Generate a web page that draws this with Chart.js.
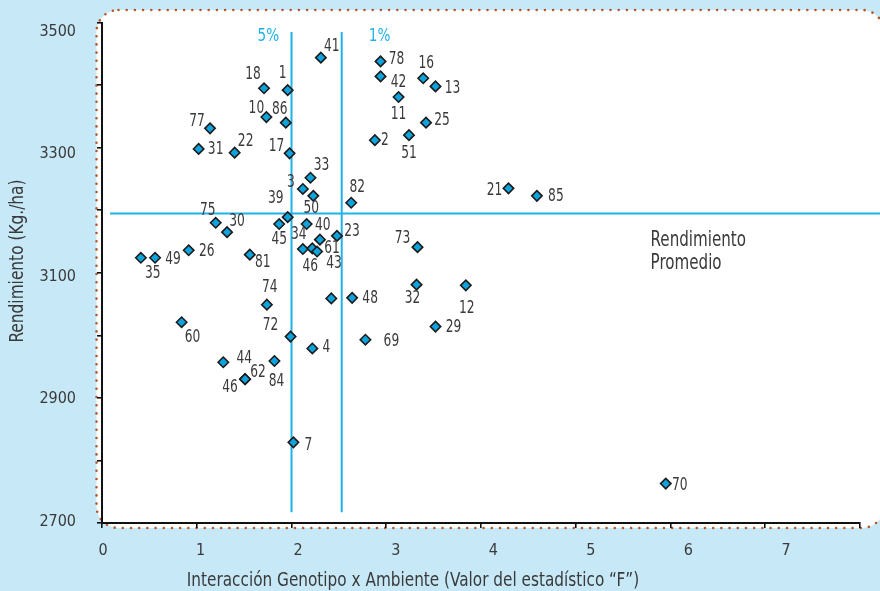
<!DOCTYPE html>
<html><head><meta charset="utf-8">
<script src="https://cdn.jsdelivr.net/npm/chart.js@4.4.1/dist/chart.umd.min.js"></script>
<style>html,body{margin:0;padding:0;background:#c7e8f7;}canvas{display:block}</style>
</head><body>
<canvas id="c" width="880" height="591"></canvas>
<script>
// ---- data ----
const genotypes = ["41","78","42","16","13","18","1","11","10","86","77","25","51","2","31","22","17","33","3","50","82","39","75","45","40","30","23","34","46","61","43","73","26","35","49","81","32","12","48","","74","60","72","4","69","29","44","84","62","46","7","21","85","70"];
const fValues = [2.31,2.94,2.94,3.39,3.52,1.71,1.96,3.13,1.735,1.94,1.14,3.42,3.24,2.88,1.02,1.40,1.98,2.20,2.12,2.23,2.63,1.96,1.20,1.87,2.16,1.32,2.48,2.12,2.22,2.30,2.27,3.33,0.915,0.41,0.56,1.56,3.32,3.84,2.64,2.42,1.74,0.84,1.99,2.22,2.78,3.52,1.28,1.82,1.51,1.51,2.02,4.29,4.59,5.95];
const yields = [3444,3438,3414,3411,3398,3395,3392,3381,3349,3340,3331,3340,3320,3312,3298,3292,3291,3252,3234,3223,3212,3189,3180,3178,3178,3165,3159,3138,3139,3153,3134,3141,3136,3124,3124,3129,3081,3080,3060,3059,3049,3021,2998,2979,2993,3014,2957,2959,2930,2930,2829,3235,3223,2763];
const xTickValues = [0,1,2,3,4,5,6,7];
const yTickValues = [2700,2900,3100,3300,3500];
const meanYield = 3195;
const critF5 = 2.0;
const critF1 = 2.53;
const xTitle = "Interacción Genotipo x Ambiente (Valor del estadístico “F”)";
const yTitle = "Rendimiento (Kg./ha)";
const meanLabel = ["Rendimiento", "Promedio"];
const critLabels = ["5%", "1%"];

// ---- label placement (style) ----
const labelOffsets = [[11,-11],[16,-2],[18,6],[3,-15],[17,2],[-11,-14],[-5,-17],[0,18],[-10,-8],[-6,-13],[-13,-7],[16,-2],[0,18],[10,0],[17,1],[11,-11],[-13,-7],[11,-12],[-12,-6],[-2,13],[6,-15],[-12,-19],[-8,-12],[0,16],[16,2],[10,-11],[15,-4],[-4,-14],[-2,18],[12,9],[17,12],[-15,-9],[18,1],[12,16],[18,2],[13,8],[-4,14],[1,23],[18,1],[0,0],[3,-17],[11,15],[-20,-11],[14,-1],[26,2],[18,1],[21,-4],[2,21],[13,-7],[-15,8],[15,3],[-14,2],[19,1],[14,2]];

const FONT = '"DejaVu Sans Condensed","DejaVu Sans",sans-serif';
const TXT = '#3a3a3a';
const CYAN = '#1fb2ea';

function squeezedText(ctx, text, x, y, sx, align) {
  ctx.save();
  ctx.translate(x, y);
  ctx.scale(sx, 1);
  ctx.textAlign = align || 'center';
  ctx.fillText(text, 0, 0);
  ctx.restore();
}

const panelPlugin = {
  id: 'panel',
  beforeDraw(chart) {
    const ctx = chart.ctx;
    ctx.save();
    ctx.fillStyle = '#c7e8f7';
    ctx.fillRect(0, 0, chart.width, chart.height);
    const x0 = 96.5, y0 = 10, x1 = 884, y1 = 528, r = 22;
    ctx.beginPath();
    ctx.moveTo(x0 + r, y0);
    ctx.lineTo(x1 - r, y0);
    ctx.arcTo(x1, y0, x1, y0 + r, r);
    ctx.lineTo(x1, y1 - r);
    ctx.arcTo(x1, y1, x1 - r, y1, r);
    ctx.lineTo(x0 + r, y1);
    ctx.arcTo(x0, y1, x0, y1 - r, r);
    ctx.lineTo(x0, y0 + r);
    ctx.arcTo(x0, y0, x0 + r, y0, r);
    ctx.closePath();
    ctx.fillStyle = '#ffffff';
    ctx.fill();
    ctx.setLineDash([0, 8.2]);
    ctx.lineCap = 'round';
    ctx.lineWidth = 2.6;
    ctx.strokeStyle = '#b4582a';
    ctx.stroke();
    ctx.restore();
  }
};

const refPlugin = {
  id: 'refs',
  beforeDatasetsDraw(chart) {
    const ctx = chart.ctx, xs = chart.scales.x, ys = chart.scales.y;
    ctx.save();
    ctx.strokeStyle = CYAN;
    ctx.lineWidth = 2;
    [critF5, critF1].forEach(v => {
      const px = xs.getPixelForValue(v);
      ctx.beginPath();
      ctx.moveTo(px, ys.getPixelForValue(3485));
      ctx.lineTo(px, ys.getPixelForValue(2717));
      ctx.stroke();
    });
    const py = ys.getPixelForValue(meanYield);
    ctx.beginPath();
    ctx.moveTo(xs.getPixelForValue(0.085), py);
    ctx.lineTo(chart.width, py);
    ctx.stroke();
    ctx.fillStyle = CYAN;
    ctx.font = '18px ' + FONT;
    ctx.textBaseline = 'middle';
    squeezedText(ctx, critLabels[0], xs.getPixelForValue(1.756), ys.getPixelForValue(3478), 0.84);
    squeezedText(ctx, critLabels[1], xs.getPixelForValue(2.93), ys.getPixelForValue(3478), 0.84);
    ctx.fillStyle = TXT;
    ctx.font = '21px ' + FONT;
    squeezedText(ctx, meanLabel[0], xs.getPixelForValue(5.79), ys.getPixelForValue(3152), 0.8, 'left');
    squeezedText(ctx, meanLabel[1], xs.getPixelForValue(5.79), ys.getPixelForValue(3114), 0.8, 'left');
    ctx.restore();
  }
};

const labelPlugin = {
  id: 'ptlabels',
  afterDatasetsDraw(chart) {
    const ctx = chart.ctx;
    const meta = chart.getDatasetMeta(0);
    ctx.save();
    ctx.fillStyle = TXT;
    ctx.font = '17px ' + FONT;
    ctx.textBaseline = 'middle';
    meta.data.forEach((el, i) => {
      const t = genotypes[i];
      if (!t) return;
      const o = labelOffsets[i];
      squeezedText(ctx, t, el.x + o[0], el.y + o[1], 0.8);
    });
    ctx.restore();
  }
};

const titlePlugin = {
  id: 'titles',
  afterDraw(chart) {
    const ctx = chart.ctx;
    ctx.save();
    ctx.fillStyle = TXT;
    ctx.font = '20px ' + FONT;
    ctx.textBaseline = 'middle';
    squeezedText(ctx, xTitle, 413, 581, 0.85);
    ctx.translate(18, 261);
    ctx.rotate(-Math.PI / 2);
    ctx.font = '19px ' + FONT;
    squeezedText(ctx, yTitle, 0, 0, 0.9);
    ctx.restore();
  }
};

const tickGrid = { drawOnChartArea: false, drawTicks: true, tickLength: 5, color: '#111', lineWidth: 1.6 };
const tickFont = { family: FONT, size: 16 };

new Chart(document.getElementById('c'), {
  type: 'scatter',
  data: {
    datasets: [{
      data: genotypes.map((g, i) => ({ x: fValues[i], y: yields[i] })),
      pointStyle: 'rectRot',
      pointRadius: 5.2,
      pointHoverRadius: 5.2,
      backgroundColor: '#0fa3de',
      borderColor: '#1b1b1b',
      borderWidth: 1.6
    }]
  },
  options: {
    responsive: false,
    animation: false,
    layout: { padding: { top: 21, right: 20, left: 0, bottom: 0 } },
    plugins: { legend: { display: false }, tooltip: { enabled: false } },
    scales: {
      x: {
        type: 'linear', min: 0, max: 8, position: 'bottom', weight: 0,
        afterFit(s) { s.height = 10; },
        ticks: { stepSize: 1, display: false },
        grid: tickGrid,
        border: { display: true, color: '#111', width: 2 }
      },
      xLabels: {
        type: 'linear', min: -0.01025, max: 7.7585, position: 'bottom', weight: 1,
        afterFit(s) { s.height = 58; },
        afterBuildTicks(s) { s.ticks = xTickValues.map(v => ({ value: v })); },
        ticks: { autoSkip: false, padding: 0, color: TXT, font: tickFont, maxRotation: 0, callback: v => String(v) },
        grid: { display: false },
        border: { display: false }
      },
      y: {
        type: 'linear', min: 2700, max: 3500, position: 'left', weight: 0,
        afterFit(s) { s.width = 5; },
        ticks: { stepSize: 100, display: false },
        grid: tickGrid,
        border: { display: true, color: '#111', width: 2 }
      },
      yLabels: {
        type: 'linear', min: 2697.9, max: 3514.6, position: 'left', weight: 1,
        afterFit(s) { s.width = 97; },
        afterBuildTicks(s) { s.ticks = yTickValues.map(v => ({ value: v })); },
        ticks: { autoSkip: false, padding: 13, color: TXT, font: tickFont, callback: v => String(v) },
        grid: { display: false },
        border: { display: false }
      }
    }
  },
  plugins: [panelPlugin, refPlugin, labelPlugin, titlePlugin]
});
</script>
</body></html>
